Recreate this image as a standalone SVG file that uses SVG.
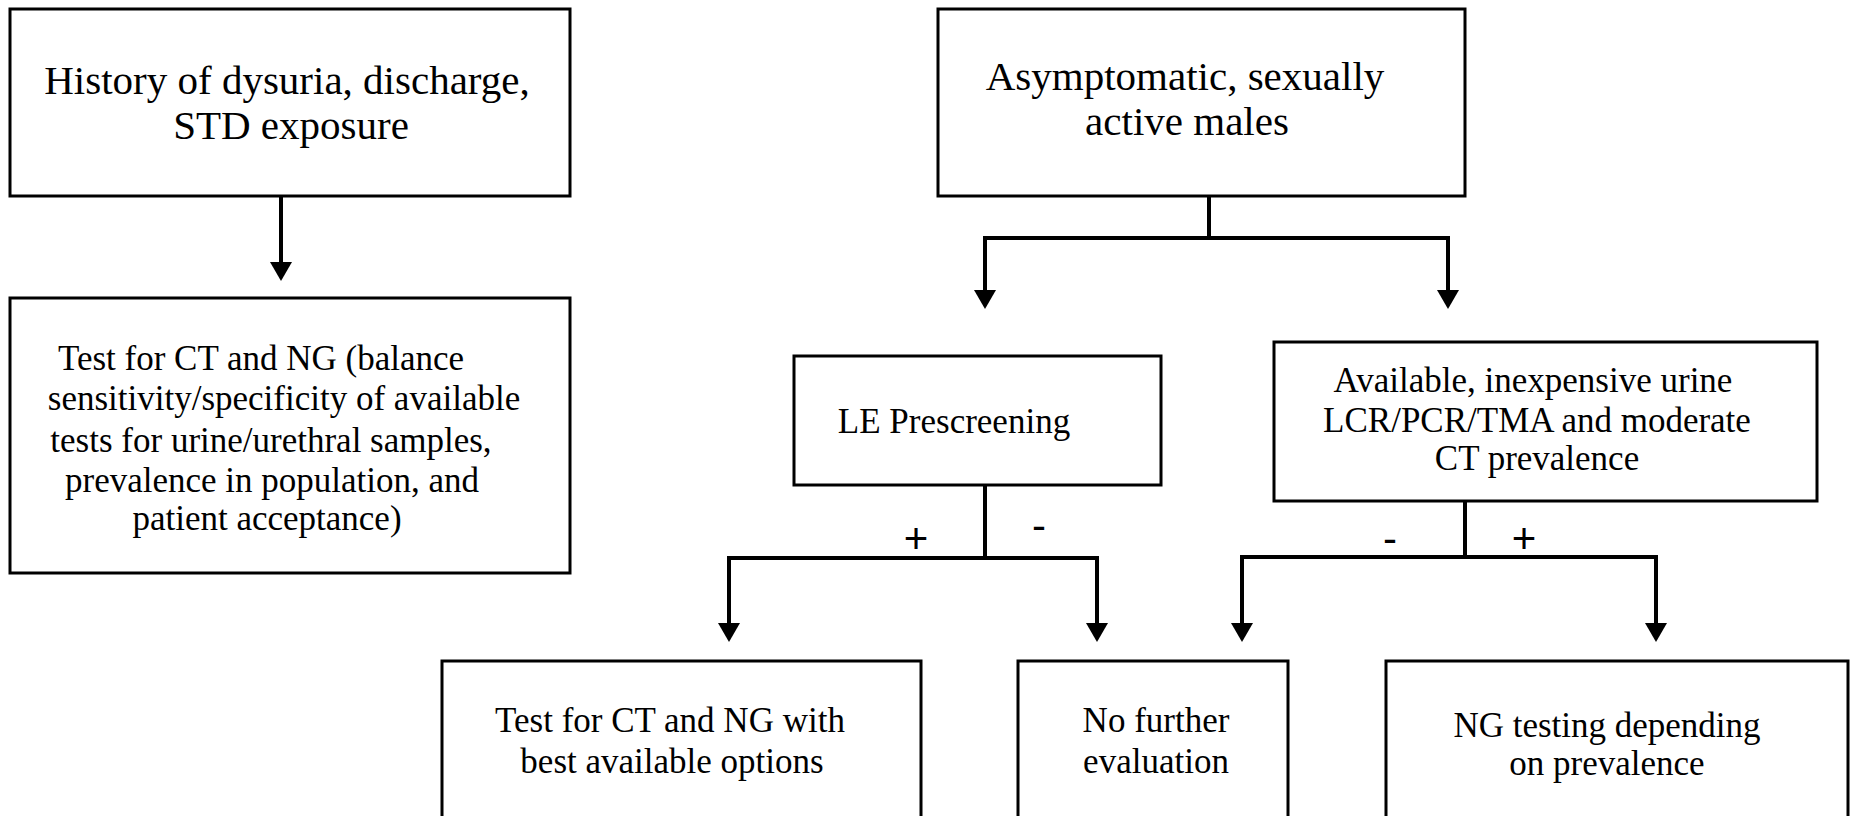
<svg xmlns="http://www.w3.org/2000/svg" width="1858" height="816" viewBox="0 0 1858 816">
  <style>
    .box { fill: #ffffff; stroke: #000000; stroke-width: 3; }
    .t { font-family: "Liberation Serif", "Times New Roman", serif; fill: #000000; text-anchor: middle; }
    .big { font-size: 41px; }
    .med { font-size: 35px; }
    .sign { font-family: "Liberation Sans", Arial, sans-serif; font-size: 42px; fill: #000000; text-anchor: middle; }
    .conn { fill: none; stroke: #000000; stroke-width: 4; stroke-linecap: butt; stroke-linejoin: miter; }
  </style>
  <defs>
    <marker id="arrow" markerUnits="userSpaceOnUse" markerWidth="20" markerHeight="24" viewBox="0 -12 20 24" refX="0" refY="0" orient="auto">
      <path d="M0,-11 L19,0 L0,11 Z" fill="#000000"/>
    </marker>
  </defs>
  <rect width="1858" height="816" fill="#ffffff"/>

  <g id="connectors">
    <path class="conn" d="M281,196 L281,262" marker-end="url(#arrow)"/>
    <path class="conn" d="M1209,196 L1209,238"/>
    <path class="conn" d="M983,238 L1450,238"/>
    <path class="conn" d="M985,238 L985,290" marker-end="url(#arrow)"/>
    <path class="conn" d="M1448,238 L1448,290" marker-end="url(#arrow)"/>
    <path class="conn" d="M985,485 L985,558"/>
    <path class="conn" d="M727,558 L1099,558"/>
    <path class="conn" d="M729,558 L729,623" marker-end="url(#arrow)"/>
    <path class="conn" d="M1097,558 L1097,623" marker-end="url(#arrow)"/>
    <path class="conn" d="M1465,501 L1465,557"/>
    <path class="conn" d="M1240,557 L1658,557"/>
    <path class="conn" d="M1242,557 L1242,623" marker-end="url(#arrow)"/>
    <path class="conn" d="M1656,557 L1656,623" marker-end="url(#arrow)"/>
    <text class="sign" x="916" y="553">+</text>
    <text class="sign" x="1039" y="540">-</text>
    <text class="sign" x="1390" y="553">-</text>
    <text class="sign" x="1524" y="553">+</text>
  </g>

  <g id="history">
    <rect class="box" x="10" y="9" width="560" height="187"/>
    <text class="t big" x="287" y="94">History of dysuria, discharge,</text>
    <text class="t big" x="291" y="139">STD exposure</text>
  </g>

  <g id="test-ct-ng">
    <rect class="box" x="10" y="298" width="560" height="275"/>
    <text class="t med" x="261" y="370">Test for CT and NG (balance</text>
    <text class="t med" x="284" y="410">sensitivity/specificity of available</text>
    <text class="t med" x="271" y="452">tests for urine/urethral samples,</text>
    <text class="t med" x="272" y="492">prevalence in population, and</text>
    <text class="t med" x="267" y="530">patient acceptance)</text>
  </g>

  <g id="asymptomatic">
    <rect class="box" x="938" y="9" width="527" height="187"/>
    <text class="t big" x="1185" y="90">Asymptomatic, sexually</text>
    <text class="t big" x="1187" y="135">active males</text>
  </g>

  <g id="le-prescreening">
    <rect class="box" x="794" y="356" width="367" height="129"/>
    <text class="t med" x="954" y="433">LE Prescreening</text>
  </g>

  <g id="available-urine">
    <rect class="box" x="1274" y="342" width="543" height="159"/>
    <text class="t med" x="1533" y="392">Available, inexpensive urine</text>
    <text class="t med" x="1537" y="432">LCR/PCR/TMA and moderate</text>
    <text class="t med" x="1537" y="470">CT prevalence</text>
  </g>

  <g id="test-best-options">
    <rect class="box" x="442" y="661" width="479" height="180"/>
    <text class="t med" x="670" y="732">Test for CT and NG with</text>
    <text class="t med" x="672" y="773">best available options</text>
  </g>

  <g id="no-further">
    <rect class="box" x="1018" y="661" width="270" height="180"/>
    <text class="t med" x="1156" y="732">No further</text>
    <text class="t med" x="1156" y="773">evaluation</text>
  </g>

  <g id="ng-testing">
    <rect class="box" x="1386" y="661" width="462" height="180"/>
    <text class="t med" x="1607" y="737">NG testing depending</text>
    <text class="t med" x="1607" y="775">on prevalence</text>
  </g>
</svg>
